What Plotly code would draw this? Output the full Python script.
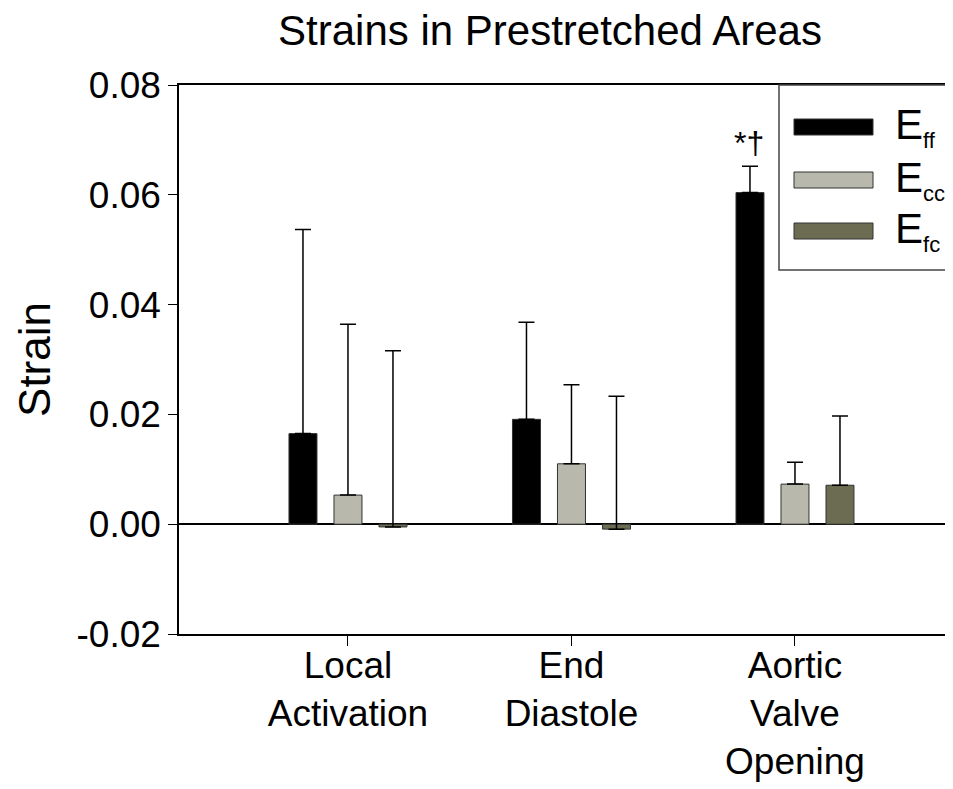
import plotly.graph_objects as go

# ---- data ----
categories = ["Local<br>Activation", "End<br>Diastole", "Aortic<br>Valve<br>Opening"]
series_names = ["E<sub>ff</sub>", "E<sub>cc</sub>", "E<sub>fc</sub>"]
series_colors = ["#000000", "#b8b9ac", "#6c6c53"]
eff_values = [0.0165, 0.0191, 0.0604]
ecc_values = [0.0053, 0.0110, 0.0073]
efc_values = [-0.0005, -0.0009, 0.0071]
eff_err_top = [0.0537, 0.0368, 0.0652]
ecc_err_top = [0.0364, 0.0254, 0.0113]
efc_err_top = [0.0316, 0.0233, 0.0197]
y_ticks = [-0.02, 0.00, 0.02, 0.04, 0.06, 0.08]
y_tick_labels = ["-0.02", "0.00", "0.02", "0.04", "0.06", "0.08"]
significance_label = "*†"

# page has an 8px body margin: figure is placed at (8, 8)
OFF = 8
W, H = 953 - OFF, 789 - OFF
L, T, R = 179 - OFF, 85 - OFF, 0
B = H - (634 - OFF)
pw, ph = W - L - R, H - T - B


def px_x(px):  # page px -> paper
    return (px - OFF - L) / pw


def px_y(py):
    return (H - B - (py - OFF)) / ph


FONT = "Arial, Liberation Sans, sans-serif"

fig = go.Figure()
values = [eff_values, ecc_values, efc_values]
tops = [eff_err_top, ecc_err_top, efc_err_top]
for name, color, vals, top in zip(series_names, series_colors, values, tops):
    fig.add_trace(go.Bar(
        x=categories, y=vals, name=name,
        marker=dict(color=color, line=dict(color="#333333", width=1)),
        error_y=dict(type="data", symmetric=False,
                     array=[t - v for t, v in zip(top, vals)],
                     arrayminus=[0] * len(vals),
                     color="#000000", thickness=1.5, width=8),
        showlegend=False,
    ))

# significance marker over Aortic Valve Opening E_ff
fig.add_annotation(x=categories[2], y=eff_err_top[2], xshift=-46, yshift=3,
                   text=significance_label, showarrow=False, yanchor="bottom",
                   font=dict(family=FONT, size=32, color="black"))

# custom legend box
fig.add_shape(type="rect", xref="paper", yref="paper",
              x0=px_x(779), x1=1.05, y0=px_y(270), y1=1.0,
              line=dict(color="#444444", width=1.5), fillcolor="white", layer="above")
sw_centers = [127, 180, 231]
for name, color, cy in zip(series_names, series_colors, sw_centers):
    fig.add_shape(type="rect", xref="paper", yref="paper",
                  x0=px_x(794), x1=px_x(873), y0=px_y(cy + 8), y1=px_y(cy - 8),
                  line=dict(color="#333333", width=1), fillcolor=color, layer="above")
    fig.add_annotation(xref="paper", yref="paper", x=px_x(893), y=px_y(cy),
                       xanchor="left", yanchor="middle", showarrow=False,
                       text=name.replace("<sub>", "<sub><span style='font-size:22px'>").replace("</sub>", "</span></sub>"),
                       font=dict(family=FONT, size=42, color="black"))

fig.update_layout(
    width=W, height=H,
    margin=dict(l=L, r=R, t=T, b=B, autoexpand=False),
    paper_bgcolor="white", plot_bgcolor="white",
    barmode="group", bargap=0.396, bargroupgap=0.378,
    title=dict(text="Strains in Prestretched Areas", x=(550 - OFF) / W, xref="container",
               xanchor="center", y=1 - (30 - OFF) / H, yref="container", yanchor="middle",
               font=dict(family=FONT, size=42, color="black")),
    font=dict(family=FONT, color="black"),
    xaxis=dict(range=[-0.756, 2.707], showline=True, linecolor="black", linewidth=1.5,
               mirror=True, ticks="outside", ticklen=10, tickwidth=1.2, tickcolor="black",
               tickfont=dict(size=37, family=FONT), showgrid=False, zeroline=False,
               ticklabelstandoff=-12),
    yaxis=dict(range=[-0.02, 0.08], tickvals=y_ticks, ticktext=y_tick_labels,
               showline=True, linecolor="black", linewidth=1.5, mirror=False,
               ticks="outside", ticklen=9, tickwidth=1.2, tickcolor="black",
               tickfont=dict(size=37, family=FONT), showgrid=False,
               zeroline=True, zerolinecolor="black", zerolinewidth=1.5,
               title=dict(text="Strain", font=dict(size=44, family=FONT), standoff=12)),
)

fig.write_html("out.html")
